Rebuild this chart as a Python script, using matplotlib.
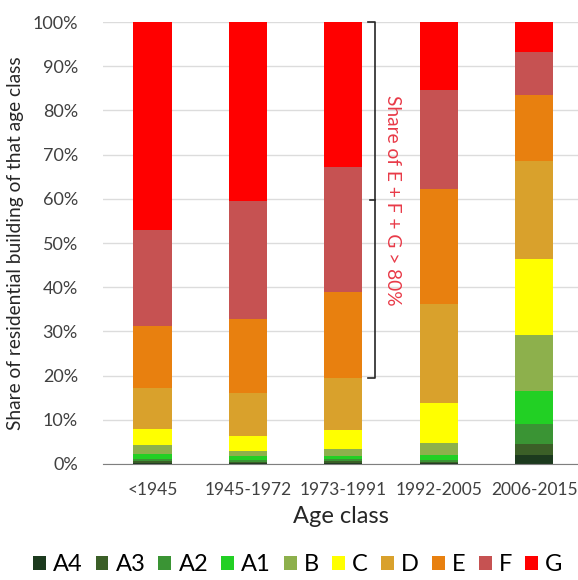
import matplotlib
matplotlib.use("Agg")
import matplotlib.pyplot as plt
import numpy as np
from matplotlib.patches import Patch

plt.rcParams["font.family"] = ["Lato", "DejaVu Sans"]

age_classes = ["<1945", "1945-1972", "1973-1991", "1992-2005", "2006-2015"]
labels = ["A4", "A3", "A2", "A1", "B", "C", "D", "E", "F", "G"]
colors = ["#1c3a1e", "#3b5f27", "#3a9434", "#22d024", "#8db04c",
          "#ffff00", "#d9a12c", "#e8800f", "#c65252", "#ff0000"]

# cumulative share (%) at the top of each energy class, per age class
cum_1945 = [0.2, 0.6, 1.2, 2.2, 4.2, 8.0, 17.2, 31.2, 53.0, 100]
cum_1972 = [0.2, 0.5, 1.0, 1.8, 3.0, 6.3, 16.0, 32.7, 59.5, 100]
cum_1991 = [0.3, 0.6, 1.1, 1.8, 3.5, 7.7, 19.5, 39.0, 67.3, 100]
cum_2005 = [0.2, 0.4, 0.8, 2.0, 4.8, 13.8, 36.2, 62.2, 84.6, 100]
cum_2015 = [2.0, 4.5, 9.0, 16.5, 29.2, 46.4, 68.6, 83.5, 93.2, 100]

cum = np.array([cum_1945, cum_1972, cum_1991, cum_2005, cum_2015])
shares = np.diff(np.hstack([np.zeros((len(age_classes), 1)), cum]), axis=1)

fig = plt.figure(figsize=(5.78, 5.80), dpi=100)
ax = fig.add_axes([0.178, 0.2, 0.822, 0.762])

x = np.arange(len(age_classes))
bottom = np.zeros(len(age_classes))
for i, lab in enumerate(labels):
    ax.bar(x, shares[:, i], bottom=bottom, width=0.4, color=colors[i],
           label=lab, zorder=3)
    bottom += shares[:, i]

ax.set_xlim(-0.52, 4.46)
ax.set_ylim(0, 100)
ax.set_yticks(np.arange(0, 101, 10))
ax.set_yticklabels([f"{v}%" for v in range(0, 101, 10)], fontsize=13,
                   color="#404040")
ax.set_xticks(x)
ax.set_xticklabels(age_classes, fontsize=12.5, color="#404040")
ax.tick_params(axis="y", length=0, pad=18)
ax.tick_params(axis="x", length=0, pad=13)
ax.grid(axis="y", color="#dcdcdc", linewidth=1, zorder=0)
for side in ["top", "right", "left"]:
    ax.spines[side].set_visible(False)
ax.spines["bottom"].set_color("#7f7f7f")
ax.spines["bottom"].set_zorder(4)

ax.set_xlabel("Age class", fontsize=17, color="#262626", labelpad=6)
ax.set_ylabel("Share of residential building of that age class",
              fontsize=13.8, color="#262626", labelpad=6)

# bracket over E + F + G of the 1973-1991 bar
bx = 2.33
lo, hi = cum_1991[6], 100
mid = (lo + hi) / 2
ax.plot([bx - 0.07, bx, bx, bx - 0.07], [hi, hi, lo, lo],
        color="#262626", linewidth=1.2, zorder=5, clip_on=False)
ax.plot([bx, bx - 0.05], [mid, mid], color="#262626", linewidth=1.2, zorder=5)
ax.text(2.52, mid, "Share of E + F + G > 80%", rotation=-90,
        ha="center", va="center", fontsize=13.8, color="#e83a48")

handles = [Patch(facecolor=c, label=l) for c, l in zip(colors, labels)]
fig.legend(handles=handles, loc="center", bbox_to_anchor=(0.515, 0.026),
           ncol=10, frameon=False, fontsize=17, handlelength=0.55,
           handleheight=0.55, handletextpad=0.3, columnspacing=0.55)

fig.savefig("out.png", dpi=100)
